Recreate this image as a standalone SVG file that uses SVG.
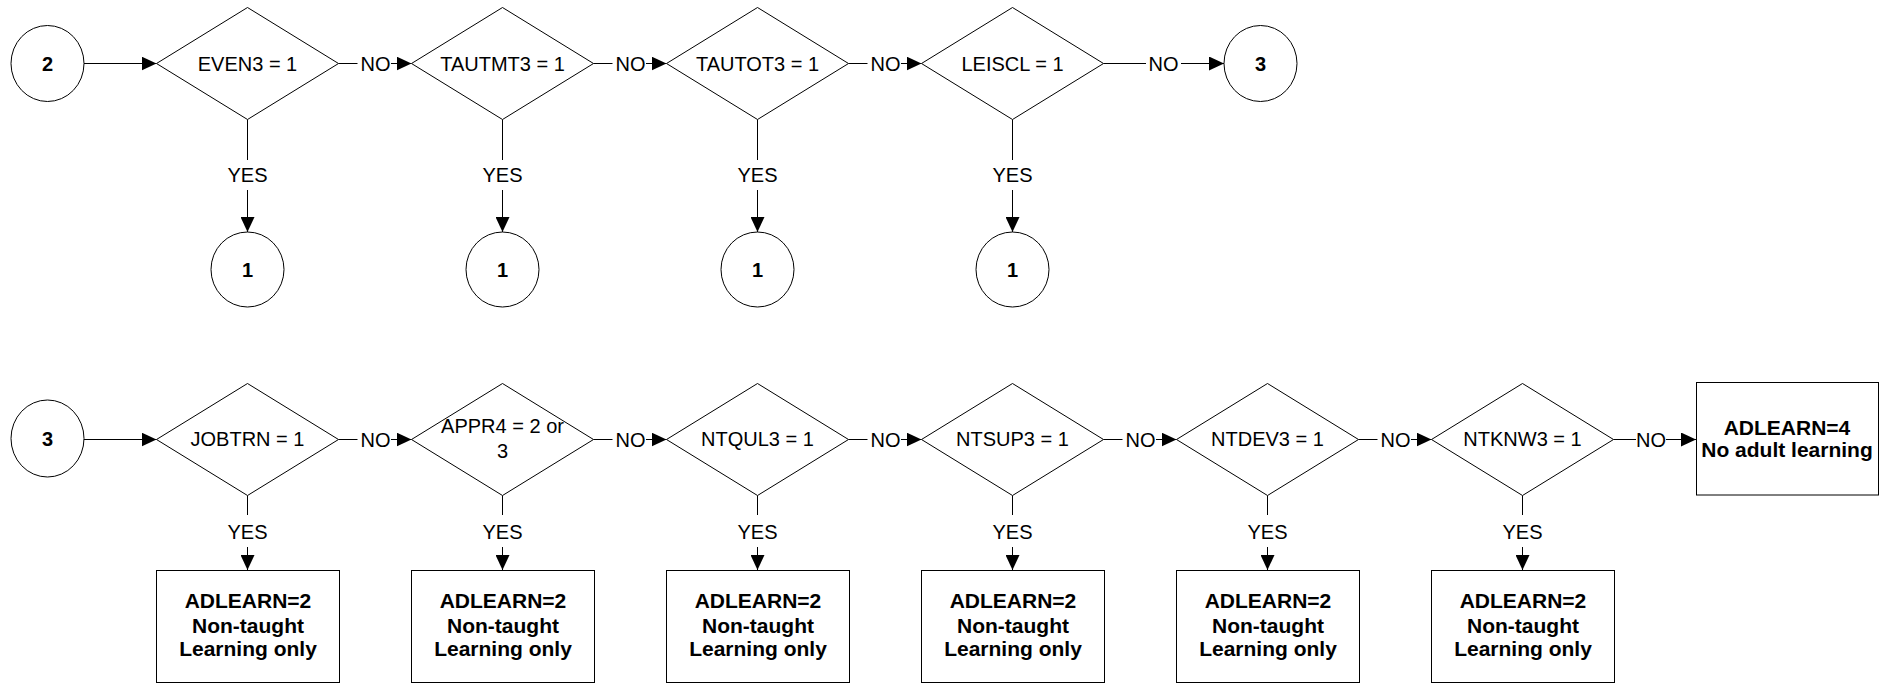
<svg xmlns="http://www.w3.org/2000/svg" width="1879" height="684" viewBox="0 0 1879 684">
<style>
.shape{fill:#fff;stroke:#000;stroke-width:1}
.ln{fill:none;stroke:#000;stroke-width:1}
.arr{marker-end:url(#ah)}
.t{font-family:"Liberation Sans",Arial,sans-serif;font-size:20px;fill:#000;text-anchor:middle}
.b{font-family:"Liberation Sans",Arial,sans-serif;font-size:21px;font-weight:bold;fill:#000;text-anchor:middle}
.c{font-family:"Liberation Sans",Arial,sans-serif;font-size:20px;font-weight:bold;fill:#000;text-anchor:middle}
</style>
<defs>
<marker id="ah" markerUnits="userSpaceOnUse" markerWidth="15" markerHeight="14" refX="15" refY="7" orient="auto">
<path d="M0,0 L15,7 L0,14 z" fill="#000"/>
</marker>
</defs>
<rect width="1879" height="684" fill="#fff"/>

<g id="connectors">
<!-- top row -->
<line class="ln arr" x1="84" y1="63.5" x2="156.5" y2="63.5"/>
<line class="ln" x1="338.5" y1="63.5" x2="357.5" y2="63.5"/>
<line class="ln arr" x1="391" y1="63.5" x2="411.5" y2="63.5"/>
<text class="t" x="375.5" y="70.5">NO</text>
<line class="ln" x1="593.5" y1="63.5" x2="612.5" y2="63.5"/>
<line class="ln arr" x1="646" y1="63.5" x2="666.5" y2="63.5"/>
<text class="t" x="630.5" y="70.5">NO</text>
<line class="ln" x1="848.5" y1="63.5" x2="867.5" y2="63.5"/>
<line class="ln arr" x1="901" y1="63.5" x2="921.5" y2="63.5"/>
<text class="t" x="885.5" y="70.5">NO</text>
<line class="ln" x1="1103.5" y1="63.5" x2="1146" y2="63.5"/>
<line class="ln arr" x1="1181" y1="63.5" x2="1224" y2="63.5"/>
<text class="t" x="1163.5" y="70.5">NO</text>
<!-- top YES -->
<line class="ln" x1="247.5" y1="119.5" x2="247.5" y2="160"/>
<line class="ln arr" x1="247.5" y1="190" x2="247.5" y2="232"/>
<text class="t" x="247.5" y="181.5">YES</text>
<line class="ln" x1="502.5" y1="119.5" x2="502.5" y2="160"/>
<line class="ln arr" x1="502.5" y1="190" x2="502.5" y2="232"/>
<text class="t" x="502.5" y="181.5">YES</text>
<line class="ln" x1="757.5" y1="119.5" x2="757.5" y2="160"/>
<line class="ln arr" x1="757.5" y1="190" x2="757.5" y2="232"/>
<text class="t" x="757.5" y="181.5">YES</text>
<line class="ln" x1="1012.5" y1="119.5" x2="1012.5" y2="160"/>
<line class="ln arr" x1="1012.5" y1="190" x2="1012.5" y2="232"/>
<text class="t" x="1012.5" y="181.5">YES</text>

<!-- bottom row -->
<line class="ln arr" x1="84" y1="439.5" x2="156.5" y2="439.5"/>
<line class="ln" x1="338.5" y1="439.5" x2="357.5" y2="439.5"/>
<line class="ln arr" x1="391" y1="439.5" x2="411.5" y2="439.5"/>
<text class="t" x="375.5" y="446.5">NO</text>
<line class="ln" x1="593.5" y1="439.5" x2="612.5" y2="439.5"/>
<line class="ln arr" x1="646" y1="439.5" x2="666.5" y2="439.5"/>
<text class="t" x="630.5" y="446.5">NO</text>
<line class="ln" x1="848.5" y1="439.5" x2="867.5" y2="439.5"/>
<line class="ln arr" x1="901" y1="439.5" x2="921.5" y2="439.5"/>
<text class="t" x="885.5" y="446.5">NO</text>
<line class="ln" x1="1103.5" y1="439.5" x2="1122.5" y2="439.5"/>
<line class="ln arr" x1="1156" y1="439.5" x2="1176.5" y2="439.5"/>
<text class="t" x="1140.5" y="446.5">NO</text>
<line class="ln" x1="1358.5" y1="439.5" x2="1377.5" y2="439.5"/>
<line class="ln arr" x1="1411" y1="439.5" x2="1431.5" y2="439.5"/>
<text class="t" x="1395.5" y="446.5">NO</text>
<line class="ln" x1="1613.5" y1="439.5" x2="1636" y2="439.5"/>
<line class="ln arr" x1="1666" y1="439.5" x2="1696" y2="439.5"/>
<text class="t" x="1651" y="446.5">NO</text>
<!-- bottom YES -->
<line class="ln" x1="247.5" y1="495.5" x2="247.5" y2="515"/>
<line class="ln arr" x1="247.5" y1="547" x2="247.5" y2="570"/>
<text class="t" x="247.5" y="539">YES</text>
<line class="ln" x1="502.5" y1="495.5" x2="502.5" y2="515"/>
<line class="ln arr" x1="502.5" y1="547" x2="502.5" y2="570"/>
<text class="t" x="502.5" y="539">YES</text>
<line class="ln" x1="757.5" y1="495.5" x2="757.5" y2="515"/>
<line class="ln arr" x1="757.5" y1="547" x2="757.5" y2="570"/>
<text class="t" x="757.5" y="539">YES</text>
<line class="ln" x1="1012.5" y1="495.5" x2="1012.5" y2="515"/>
<line class="ln arr" x1="1012.5" y1="547" x2="1012.5" y2="570"/>
<text class="t" x="1012.5" y="539">YES</text>
<line class="ln" x1="1267.5" y1="495.5" x2="1267.5" y2="515"/>
<line class="ln arr" x1="1267.5" y1="547" x2="1267.5" y2="570"/>
<text class="t" x="1267.5" y="539">YES</text>
<line class="ln" x1="1522.5" y1="495.5" x2="1522.5" y2="515"/>
<line class="ln arr" x1="1522.5" y1="547" x2="1522.5" y2="570"/>
<text class="t" x="1522.5" y="539">YES</text>
</g>

<!-- top row nodes -->
<g id="c2"><ellipse class="shape" cx="47.5" cy="63.5" rx="36.5" ry="38"/><text class="c" x="47.5" y="70.5">2</text></g>
<g id="d_even3"><polygon class="shape" points="156.5,63.5 247.5,7.5 338.5,63.5 247.5,119.5"/><text class="t" x="247.5" y="70.5">EVEN3 = 1</text></g>
<g id="d_tautmt3"><polygon class="shape" points="411.5,63.5 502.5,7.5 593.5,63.5 502.5,119.5"/><text class="t" x="502.5" y="70.5">TAUTMT3 = 1</text></g>
<g id="d_tautot3"><polygon class="shape" points="666.5,63.5 757.5,7.5 848.5,63.5 757.5,119.5"/><text class="t" x="757.5" y="70.5">TAUTOT3 = 1</text></g>
<g id="d_leiscl"><polygon class="shape" points="921.5,63.5 1012.5,7.5 1103.5,63.5 1012.5,119.5"/><text class="t" x="1012.5" y="70.5">LEISCL = 1</text></g>
<g id="c3_top"><ellipse class="shape" cx="1260.5" cy="63.5" rx="36.5" ry="38"/><text class="c" x="1260.5" y="70.5">3</text></g>
<g id="c1_a"><ellipse class="shape" cx="247.5" cy="269.5" rx="36.5" ry="37.5"/><text class="c" x="247.5" y="276.5">1</text></g>
<g id="c1_b"><ellipse class="shape" cx="502.5" cy="269.5" rx="36.5" ry="37.5"/><text class="c" x="502.5" y="276.5">1</text></g>
<g id="c1_c"><ellipse class="shape" cx="757.5" cy="269.5" rx="36.5" ry="37.5"/><text class="c" x="757.5" y="276.5">1</text></g>
<g id="c1_d"><ellipse class="shape" cx="1012.5" cy="269.5" rx="36.5" ry="37.5"/><text class="c" x="1012.5" y="276.5">1</text></g>

<!-- bottom row nodes -->
<g id="c3_bot"><ellipse class="shape" cx="47.5" cy="438.5" rx="36.5" ry="38.5"/><text class="c" x="47.5" y="445.5">3</text></g>
<g id="d_jobtrn"><polygon class="shape" points="156.5,439.5 247.5,383.5 338.5,439.5 247.5,495.5"/><text class="t" x="247.5" y="446">JOBTRN = 1</text></g>
<g id="d_appr4"><polygon class="shape" points="411.5,439.5 502.5,383.5 593.5,439.5 502.5,495.5"/><text class="t" x="502.5" y="432.5">APPR4 = 2 or</text><text class="t" x="502.5" y="457.5">3</text></g>
<g id="d_ntqul3"><polygon class="shape" points="666.5,439.5 757.5,383.5 848.5,439.5 757.5,495.5"/><text class="t" x="757.5" y="446">NTQUL3 = 1</text></g>
<g id="d_ntsup3"><polygon class="shape" points="921.5,439.5 1012.5,383.5 1103.5,439.5 1012.5,495.5"/><text class="t" x="1012.5" y="446">NTSUP3 = 1</text></g>
<g id="d_ntdev3"><polygon class="shape" points="1176.5,439.5 1267.5,383.5 1358.5,439.5 1267.5,495.5"/><text class="t" x="1267.5" y="446">NTDEV3 = 1</text></g>
<g id="d_ntknw3"><polygon class="shape" points="1431.5,439.5 1522.5,383.5 1613.5,439.5 1522.5,495.5"/><text class="t" x="1522.5" y="446">NTKNW3 = 1</text></g>
<g id="b_adl4"><rect class="shape" x="1696.5" y="382.5" width="182" height="112.5"/><text class="b" x="1787" y="435">ADLEARN=4</text><text class="b" x="1787" y="457">No adult learning</text></g>

<g id="b1"><rect class="shape" x="156.5" y="570.5" width="183" height="112"/><text class="b" x="248" y="607.5">ADLEARN=2</text><text class="b" x="248" y="632.5">Non-taught</text><text class="b" x="248" y="656">Learning only</text></g>
<g id="b2"><rect class="shape" x="411.5" y="570.5" width="183" height="112"/><text class="b" x="503" y="607.5">ADLEARN=2</text><text class="b" x="503" y="632.5">Non-taught</text><text class="b" x="503" y="656">Learning only</text></g>
<g id="b3"><rect class="shape" x="666.5" y="570.5" width="183" height="112"/><text class="b" x="758" y="607.5">ADLEARN=2</text><text class="b" x="758" y="632.5">Non-taught</text><text class="b" x="758" y="656">Learning only</text></g>
<g id="b4"><rect class="shape" x="921.5" y="570.5" width="183" height="112"/><text class="b" x="1013" y="607.5">ADLEARN=2</text><text class="b" x="1013" y="632.5">Non-taught</text><text class="b" x="1013" y="656">Learning only</text></g>
<g id="b5"><rect class="shape" x="1176.5" y="570.5" width="183" height="112"/><text class="b" x="1268" y="607.5">ADLEARN=2</text><text class="b" x="1268" y="632.5">Non-taught</text><text class="b" x="1268" y="656">Learning only</text></g>
<g id="b6"><rect class="shape" x="1431.5" y="570.5" width="183" height="112"/><text class="b" x="1523" y="607.5">ADLEARN=2</text><text class="b" x="1523" y="632.5">Non-taught</text><text class="b" x="1523" y="656">Learning only</text></g>
</svg>
